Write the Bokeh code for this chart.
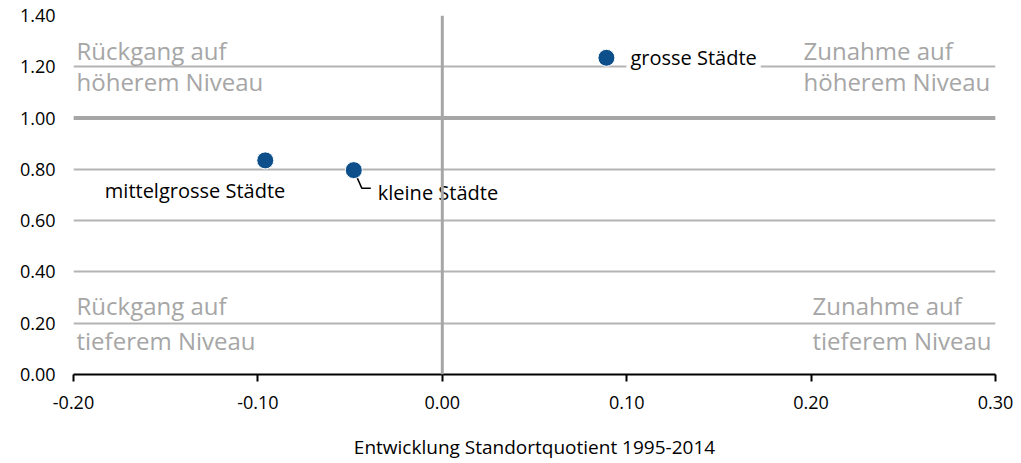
from bokeh.plotting import figure
from bokeh.models import (ColumnDataSource, Span, Label, NumeralTickFormatter,
                          FixedTicker, Range1d)
from bokeh.embed import file_html
from bokeh.resources import INLINE

# ---- data ----
categories = ["mittelgrosse Städte", "kleine Städte", "grosse Städte"]
x_vals = [-0.096, -0.048, 0.089]
y_vals = [0.835, 0.797, 1.235]
x_ticks = [-0.2, -0.1, 0.0, 0.1, 0.2, 0.3]
y_ticks = [0.0, 0.2, 0.4, 0.6, 0.8, 1.0, 1.2, 1.4]
quadrants = [("Rückgang auf", "höherem Niveau"), ("Zunahme auf", "höherem Niveau"),
             ("Rückgang auf", "tieferem Niveau"), ("Zunahme auf", "tieferem Niveau")]
x_title = "Entwicklung Standortquotient 1995-2014"

FONT = "Open Sans"
GRID = "#b4b4b4"
QCOL = "#a6a6a6"

W, H = 1021, 463
BL, BR, BT, BB = 73, 26, 15, 89
p = figure(width=W, height=H, output_backend="svg", toolbar_location=None,
           x_range=Range1d(-0.2, 0.3), y_range=Range1d(0, 1.4),
           min_border_left=BL, min_border_right=BR, min_border_top=BT,
           min_border_bottom=BB)
p.outline_line_color = None
p.background_fill_color = "white"

# grid
p.xgrid.grid_line_color = None
p.ygrid.ticker = FixedTicker(ticks=y_ticks)
p.ygrid.grid_line_color = GRID
p.ygrid.grid_line_width = 2

# axes
p.xaxis.ticker = FixedTicker(ticks=x_ticks)
p.xaxis.formatter = NumeralTickFormatter(format="0.00")
p.xaxis.axis_line_color = "black"
p.xaxis.axis_line_width = 2
p.xaxis.major_tick_line_color = "black"
p.xaxis.major_tick_line_width = 2
p.xaxis.major_tick_out = 7
p.xaxis.major_tick_in = 0
p.xaxis.minor_tick_line_color = None
p.xaxis.major_label_text_font = FONT
p.xaxis.major_label_text_font_size = "18px"
p.xaxis.major_label_text_color = "black"
p.xaxis.major_label_standoff = 14
p.xaxis.axis_label = x_title
p.xaxis.axis_label_text_font = FONT
p.xaxis.axis_label_text_font_size = "19px"
p.xaxis.axis_label_text_font_style = "normal"
p.xaxis.axis_label_text_color = "black"
p.xaxis.axis_label_standoff = 22

p.yaxis.ticker = FixedTicker(ticks=y_ticks)
p.yaxis.formatter = NumeralTickFormatter(format="0.00")
p.yaxis.axis_line_color = None
p.yaxis.major_tick_line_color = None
p.yaxis.minor_tick_line_color = None
p.yaxis.major_label_text_font = FONT
p.yaxis.major_label_text_font_size = "18px"
p.yaxis.major_label_text_color = "black"
p.yaxis.major_label_standoff = 12

# reference line at 1.0
p.add_layout(Span(location=1.0, dimension="width", line_color=QCOL, line_width=4, level="underlay"))

src = ColumnDataSource(dict(x=x_vals, y=y_vals, name=categories))

# leader line for kleine Städte
ux = 0.5 / (W - BL - BR)
uy = 1.4 / (H - BT - BB)
kx, ky = x_vals[1], y_vals[1]
p.line([kx, kx + 8 * ux, kx + 17 * ux], [ky, ky - 18 * uy, ky - 18 * uy],
       line_color="black", line_width=1.5)

lab_specs = [
    dict(x_offset=24, y_offset=-30, text_align="right"),
    dict(x_offset=20, y_offset=-22, text_align="left"),
    dict(x_offset=20, y_offset=0, text_align="left"),
]
for xv, yv, name, spec in zip(x_vals, y_vals, categories, lab_specs):
    p.add_layout(Label(x=xv, y=yv, text=name, x_offset=spec["x_offset"],
                       y_offset=spec["y_offset"], text_align=spec["text_align"],
                       text_baseline="middle", text_font=FONT, text_font_size="20px",
                       text_color="black", background_fill_color="white",
                       padding=4))

p.add_layout(Span(location=0.0, dimension="height", line_color=QCOL, line_width=3))

p.scatter("x", "y", source=src, size=17, fill_color="#0d4f8b", line_color="white",
          line_width=1)

# quadrant labels (two lines each, left-aligned blocks)
qpos = [(-0.2, 1.4, 3, (-35, -66)), (0.3, 1.4, -192, (-35, -66)),
        (-0.2, 0.0, 3, (69, 34)), (0.3, 0.0, -183, (69, 34))]
for lines, (qx, qy, xo, yos) in zip(quadrants, qpos):
    for txt, yo in zip(lines, yos):
        p.add_layout(Label(x=qx, y=qy, text=txt, text_align="left", text_baseline="middle",
                           x_offset=xo, y_offset=yo, text_font=FONT,
                           text_font_size="24px", text_color=QCOL))

open("out.html", "w").write(file_html(p, INLINE))
